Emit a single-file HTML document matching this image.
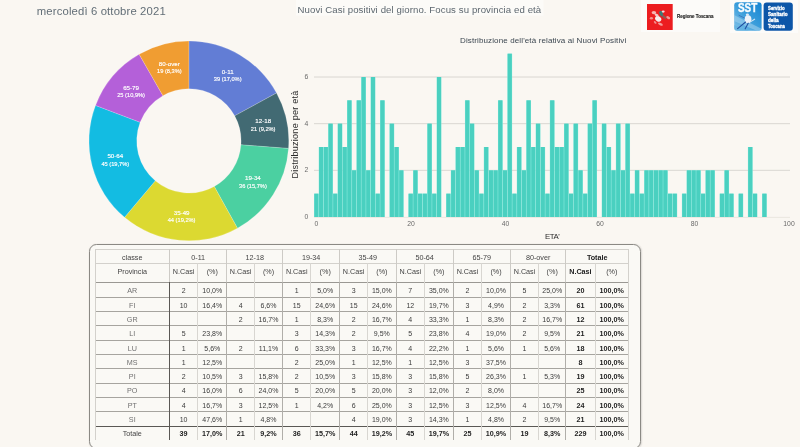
<!DOCTYPE html>
<html lang="it"><head><meta charset="utf-8"><title>Nuovi Casi positivi del giorno</title>
<style>
html,body{margin:0;padding:0;}
body{width:800px;height:447px;overflow:hidden;background:#faf7f2;position:relative;font-family:"Liberation Sans",sans-serif;}
.abs{position:absolute;white-space:nowrap;}
svg text{font-family:"Liberation Sans",sans-serif;}
.tick{font-size:6.8px;fill:#6a6a6a;}
.axt{fill:#2a2a2a;}
.ctitle{font-size:8px;fill:#3b4650;}
.dl{font-size:6.2px;fill:#fff;stroke:#fff;stroke-width:0.15;}
.d2{font-size:5.7px;}
.th{font-size:7.2px;fill:#444;text-anchor:middle;}
.rl{font-size:7.2px;fill:#707070;text-anchor:middle;}
.td{font-size:7px;fill:#3a3a3a;text-anchor:middle;}
.b{font-weight:bold;fill:#222;font-size:7.2px;}
#date{left:36.5px;top:3.2px;font-size:11.9px;color:#5b6770;line-height:15px;}
#title{left:297.3px;top:3.6px;font-size:9.75px;color:#555f66;line-height:13px;}
#tbox{left:89px;top:243.5px;width:549.6px;height:203.5px;border:1px solid #8b8984;border-radius:7.5px;background:#faf9f5;box-shadow:0.5px 0.5px 1.5px rgba(0,0,0,0.12);}
.sst{font-size:4.8px;font-weight:bold;fill:#fff;stroke:#fff;stroke-width:0.3;}
#logo1{left:640.5px;top:0;width:79.5px;height:32px;background:#fcfbf9;}
#logo2{left:730px;top:0;width:67.5px;height:33px;background:#fcfbf9;}
#bottomstrip{left:0;top:445.5px;width:800px;height:2px;background:#fbfaf7;}
</style></head><body>
<div id="logo1" class="abs"></div>
<div id="logo2" class="abs"></div>
<div id="tbox" class="abs"></div>
<svg class="abs" style="left:0;top:0" width="800" height="447" viewBox="0 0 800 447">
<rect x="296" y="0" width="247.5" height="15.6" fill="#fcfbf8"/>
<text x="36.8" y="14.8" textLength="128.9" style="font-size:11.3px;fill:#626e77">mercoledì 6 ottobre 2021</text>
<text x="297.5" y="13" textLength="243.7" style="font-size:9.6px;fill:#5d676f">Nuovi Casi positivi del giorno. Focus su provincia ed età</text>
<!-- logos -->
<g id="regione">
<rect x="647" y="4" width="25.7" height="26" fill="#ec1d20"/>
<ellipse cx="653.9" cy="12.6" rx="2.3" ry="1.6" fill="#f6b4b2"/>
<ellipse cx="651.4" cy="18.2" rx="1.6" ry="1.2" fill="#f28e8c"/>
<ellipse cx="658.2" cy="18.8" rx="3.3" ry="2.6" transform="rotate(35 658.2 18.8)" fill="#f7ecec"/>
<ellipse cx="656.6" cy="15.2" rx="2.2" ry="1.3" transform="rotate(30 656.6 15.2)" fill="#f4c9c8"/>
<ellipse cx="661.2" cy="13.6" rx="1.7" ry="2.9" transform="rotate(-25 661.2 13.6)" fill="#3c7b76"/>
<ellipse cx="663.2" cy="11.6" rx="1.5" ry="1.1" fill="#f3dede"/>
<ellipse cx="664.2" cy="17" rx="2.6" ry="1.2" transform="rotate(35 664.2 17)" fill="#8a5a55"/>
<ellipse cx="668.2" cy="17.6" rx="2.1" ry="1.3" transform="rotate(30 668.2 17.6)" fill="#f39a98"/>
<ellipse cx="660.4" cy="24.2" rx="2.6" ry="1.2" transform="rotate(25 660.4 24.2)" fill="#f39a98"/>
<ellipse cx="655.2" cy="22.4" rx="1.6" ry="1" transform="rotate(40 655.2 22.4)" fill="#f28e8c"/>
<text x="677" y="17.9" textLength="36.5" lengthAdjust="spacingAndGlyphs" style="font-size:4.9px;font-weight:bold;fill:#1e1e1e;stroke:#1e1e1e;stroke-width:0.15">Regione Toscana</text>
</g>
<g id="sst">
<defs><linearGradient id="lg" x1="1" y1="0" x2="0" y2="1"><stop offset="0" stop-color="#1584d2"/><stop offset="0.5" stop-color="#3a9ddb"/><stop offset="1" stop-color="#86c4e8"/></linearGradient>
<clipPath id="sc"><rect x="734.2" y="2.3" width="27.4" height="28.5" rx="3"/></clipPath></defs>
<rect x="734.2" y="2.3" width="27.4" height="28.5" rx="3" fill="url(#lg)"/>
<g clip-path="url(#sc)">
<path d="M734,15 L762,29 L762,33 L734,21 Z" fill="#a5d4ee" opacity="0.55"/>
<path d="M734,25 L750,31 L734,31 Z" fill="#5fb0e0" opacity="0.6"/>
</g>
<text x="738" y="12.2" textLength="19.2" lengthAdjust="spacingAndGlyphs" style="font-size:12.6px;font-weight:bold;fill:#fff;stroke:#e8f4fc;stroke-width:0.5">SST</text>
<ellipse cx="748" cy="19.2" rx="3.4" ry="3.9" fill="#eef2f8"/>
<ellipse cx="747.4" cy="14.8" rx="1.6" ry="1.3" fill="#dfe9f4"/>
<path d="M745.6,22 L737.6,28.6" stroke="#1f4fa0" stroke-width="1.1" stroke-linecap="round"/>
<path d="M748.2,23.2 L745.2,28.8" stroke="#1f4fa0" stroke-width="1.1" stroke-linecap="round"/>
<path d="M750.8,21.6 L754.6,19.2" stroke="#d6e6f4" stroke-width="1.1" stroke-linecap="round"/>
<path d="M739,15.4 L744.5,18" stroke="#3b6fb5" stroke-width="0.8" stroke-linecap="round"/>
<rect x="763.6" y="2.4" width="29.2" height="28.3" rx="3" fill="#0c56a8"/>
<text x="768" y="9.7" class="sst" textLength="16.6" lengthAdjust="spacingAndGlyphs">Servizio</text>
<text x="768" y="15.7" class="sst" textLength="19.6" lengthAdjust="spacingAndGlyphs">Sanitario</text>
<text x="768" y="21.7" class="sst" textLength="10.6" lengthAdjust="spacingAndGlyphs">della</text>
<text x="768" y="27.7" class="sst" textLength="16.8" lengthAdjust="spacingAndGlyphs">Toscana</text>
</g>
<!-- histogram -->
<line x1="314" x2="790" y1="170.34" y2="170.34" stroke="#d2cfc9" stroke-width="0.8"/>
<line x1="314" x2="790" y1="123.68" y2="123.68" stroke="#d2cfc9" stroke-width="0.8"/>
<line x1="314" x2="790" y1="77.02" y2="77.02" stroke="#d2cfc9" stroke-width="0.8"/>
<line x1="314" x2="790" y1="217.40" y2="217.40" stroke="#e6e3dc" stroke-width="0.8"/>
<rect x="314.04" y="193.67" width="4.716" height="23.33" fill="#86e9dd"/>
<rect x="314.35" y="193.67" width="4.1" height="23.33" fill="#4ad0c0"/>
<rect x="318.76" y="147.01" width="4.716" height="69.99" fill="#86e9dd"/>
<rect x="319.07" y="147.01" width="4.1" height="69.99" fill="#4ad0c0"/>
<rect x="323.47" y="147.01" width="4.716" height="69.99" fill="#86e9dd"/>
<rect x="323.78" y="147.01" width="4.1" height="69.99" fill="#4ad0c0"/>
<rect x="328.19" y="123.68" width="4.716" height="93.32" fill="#86e9dd"/>
<rect x="328.50" y="123.68" width="4.1" height="93.32" fill="#4ad0c0"/>
<rect x="332.91" y="193.67" width="4.716" height="23.33" fill="#86e9dd"/>
<rect x="333.21" y="193.67" width="4.1" height="23.33" fill="#4ad0c0"/>
<rect x="337.62" y="123.68" width="4.716" height="93.32" fill="#86e9dd"/>
<rect x="337.93" y="123.68" width="4.1" height="93.32" fill="#4ad0c0"/>
<rect x="342.34" y="147.01" width="4.716" height="69.99" fill="#86e9dd"/>
<rect x="342.65" y="147.01" width="4.1" height="69.99" fill="#4ad0c0"/>
<rect x="347.05" y="100.35" width="4.716" height="116.65" fill="#86e9dd"/>
<rect x="347.36" y="100.35" width="4.1" height="116.65" fill="#4ad0c0"/>
<rect x="351.77" y="170.34" width="4.716" height="46.66" fill="#86e9dd"/>
<rect x="352.08" y="170.34" width="4.1" height="46.66" fill="#4ad0c0"/>
<rect x="356.49" y="100.35" width="4.716" height="116.65" fill="#86e9dd"/>
<rect x="356.79" y="100.35" width="4.1" height="116.65" fill="#4ad0c0"/>
<rect x="361.20" y="77.02" width="4.716" height="139.98" fill="#86e9dd"/>
<rect x="361.51" y="77.02" width="4.1" height="139.98" fill="#4ad0c0"/>
<rect x="365.92" y="170.34" width="4.716" height="46.66" fill="#86e9dd"/>
<rect x="366.23" y="170.34" width="4.1" height="46.66" fill="#4ad0c0"/>
<rect x="370.63" y="77.02" width="4.716" height="139.98" fill="#86e9dd"/>
<rect x="370.94" y="77.02" width="4.1" height="139.98" fill="#4ad0c0"/>
<rect x="375.35" y="193.67" width="4.716" height="23.33" fill="#86e9dd"/>
<rect x="375.66" y="193.67" width="4.1" height="23.33" fill="#4ad0c0"/>
<rect x="380.07" y="100.35" width="4.716" height="116.65" fill="#86e9dd"/>
<rect x="380.37" y="100.35" width="4.1" height="116.65" fill="#4ad0c0"/>
<rect x="389.50" y="123.68" width="4.716" height="93.32" fill="#86e9dd"/>
<rect x="389.81" y="123.68" width="4.1" height="93.32" fill="#4ad0c0"/>
<rect x="394.21" y="147.01" width="4.716" height="69.99" fill="#86e9dd"/>
<rect x="394.52" y="147.01" width="4.1" height="69.99" fill="#4ad0c0"/>
<rect x="398.93" y="170.34" width="4.716" height="46.66" fill="#86e9dd"/>
<rect x="399.24" y="170.34" width="4.1" height="46.66" fill="#4ad0c0"/>
<rect x="408.36" y="193.67" width="4.716" height="23.33" fill="#86e9dd"/>
<rect x="408.67" y="193.67" width="4.1" height="23.33" fill="#4ad0c0"/>
<rect x="413.08" y="170.34" width="4.716" height="46.66" fill="#86e9dd"/>
<rect x="413.39" y="170.34" width="4.1" height="46.66" fill="#4ad0c0"/>
<rect x="417.79" y="193.67" width="4.716" height="23.33" fill="#86e9dd"/>
<rect x="418.10" y="193.67" width="4.1" height="23.33" fill="#4ad0c0"/>
<rect x="422.51" y="193.67" width="4.716" height="23.33" fill="#86e9dd"/>
<rect x="422.82" y="193.67" width="4.1" height="23.33" fill="#4ad0c0"/>
<rect x="427.23" y="123.68" width="4.716" height="93.32" fill="#86e9dd"/>
<rect x="427.53" y="123.68" width="4.1" height="93.32" fill="#4ad0c0"/>
<rect x="431.94" y="193.67" width="4.716" height="23.33" fill="#86e9dd"/>
<rect x="432.25" y="193.67" width="4.1" height="23.33" fill="#4ad0c0"/>
<rect x="436.66" y="77.02" width="4.716" height="139.98" fill="#86e9dd"/>
<rect x="436.97" y="77.02" width="4.1" height="139.98" fill="#4ad0c0"/>
<rect x="446.09" y="193.67" width="4.716" height="23.33" fill="#86e9dd"/>
<rect x="446.40" y="193.67" width="4.1" height="23.33" fill="#4ad0c0"/>
<rect x="450.81" y="170.34" width="4.716" height="46.66" fill="#86e9dd"/>
<rect x="451.11" y="170.34" width="4.1" height="46.66" fill="#4ad0c0"/>
<rect x="455.52" y="147.01" width="4.716" height="69.99" fill="#86e9dd"/>
<rect x="455.83" y="147.01" width="4.1" height="69.99" fill="#4ad0c0"/>
<rect x="460.24" y="147.01" width="4.716" height="69.99" fill="#86e9dd"/>
<rect x="460.55" y="147.01" width="4.1" height="69.99" fill="#4ad0c0"/>
<rect x="464.95" y="100.35" width="4.716" height="116.65" fill="#86e9dd"/>
<rect x="465.26" y="100.35" width="4.1" height="116.65" fill="#4ad0c0"/>
<rect x="469.67" y="123.68" width="4.716" height="93.32" fill="#86e9dd"/>
<rect x="469.98" y="123.68" width="4.1" height="93.32" fill="#4ad0c0"/>
<rect x="474.39" y="170.34" width="4.716" height="46.66" fill="#86e9dd"/>
<rect x="474.69" y="170.34" width="4.1" height="46.66" fill="#4ad0c0"/>
<rect x="479.10" y="193.67" width="4.716" height="23.33" fill="#86e9dd"/>
<rect x="479.41" y="193.67" width="4.1" height="23.33" fill="#4ad0c0"/>
<rect x="483.82" y="147.01" width="4.716" height="69.99" fill="#86e9dd"/>
<rect x="484.13" y="147.01" width="4.1" height="69.99" fill="#4ad0c0"/>
<rect x="488.53" y="170.34" width="4.716" height="46.66" fill="#86e9dd"/>
<rect x="488.84" y="170.34" width="4.1" height="46.66" fill="#4ad0c0"/>
<rect x="493.25" y="170.34" width="4.716" height="46.66" fill="#86e9dd"/>
<rect x="493.56" y="170.34" width="4.1" height="46.66" fill="#4ad0c0"/>
<rect x="497.97" y="100.35" width="4.716" height="116.65" fill="#86e9dd"/>
<rect x="498.27" y="100.35" width="4.1" height="116.65" fill="#4ad0c0"/>
<rect x="502.68" y="170.34" width="4.716" height="46.66" fill="#86e9dd"/>
<rect x="502.99" y="170.34" width="4.1" height="46.66" fill="#4ad0c0"/>
<rect x="507.40" y="53.69" width="4.716" height="163.31" fill="#86e9dd"/>
<rect x="507.71" y="53.69" width="4.1" height="163.31" fill="#4ad0c0"/>
<rect x="512.11" y="193.67" width="4.716" height="23.33" fill="#86e9dd"/>
<rect x="512.42" y="193.67" width="4.1" height="23.33" fill="#4ad0c0"/>
<rect x="516.83" y="147.01" width="4.716" height="69.99" fill="#86e9dd"/>
<rect x="517.14" y="147.01" width="4.1" height="69.99" fill="#4ad0c0"/>
<rect x="521.55" y="170.34" width="4.716" height="46.66" fill="#86e9dd"/>
<rect x="521.85" y="170.34" width="4.1" height="46.66" fill="#4ad0c0"/>
<rect x="526.26" y="100.35" width="4.716" height="116.65" fill="#86e9dd"/>
<rect x="526.57" y="100.35" width="4.1" height="116.65" fill="#4ad0c0"/>
<rect x="530.98" y="147.01" width="4.716" height="69.99" fill="#86e9dd"/>
<rect x="531.29" y="147.01" width="4.1" height="69.99" fill="#4ad0c0"/>
<rect x="535.69" y="123.68" width="4.716" height="93.32" fill="#86e9dd"/>
<rect x="536.00" y="123.68" width="4.1" height="93.32" fill="#4ad0c0"/>
<rect x="540.41" y="147.01" width="4.716" height="69.99" fill="#86e9dd"/>
<rect x="540.72" y="147.01" width="4.1" height="69.99" fill="#4ad0c0"/>
<rect x="545.13" y="193.67" width="4.716" height="23.33" fill="#86e9dd"/>
<rect x="545.43" y="193.67" width="4.1" height="23.33" fill="#4ad0c0"/>
<rect x="549.84" y="100.35" width="4.716" height="116.65" fill="#86e9dd"/>
<rect x="550.15" y="100.35" width="4.1" height="116.65" fill="#4ad0c0"/>
<rect x="554.56" y="147.01" width="4.716" height="69.99" fill="#86e9dd"/>
<rect x="554.87" y="147.01" width="4.1" height="69.99" fill="#4ad0c0"/>
<rect x="559.27" y="147.01" width="4.716" height="69.99" fill="#86e9dd"/>
<rect x="559.58" y="147.01" width="4.1" height="69.99" fill="#4ad0c0"/>
<rect x="563.99" y="123.68" width="4.716" height="93.32" fill="#86e9dd"/>
<rect x="564.30" y="123.68" width="4.1" height="93.32" fill="#4ad0c0"/>
<rect x="568.71" y="193.67" width="4.716" height="23.33" fill="#86e9dd"/>
<rect x="569.01" y="193.67" width="4.1" height="23.33" fill="#4ad0c0"/>
<rect x="573.42" y="123.68" width="4.716" height="93.32" fill="#86e9dd"/>
<rect x="573.73" y="123.68" width="4.1" height="93.32" fill="#4ad0c0"/>
<rect x="578.14" y="170.34" width="4.716" height="46.66" fill="#86e9dd"/>
<rect x="578.45" y="170.34" width="4.1" height="46.66" fill="#4ad0c0"/>
<rect x="582.85" y="193.67" width="4.716" height="23.33" fill="#86e9dd"/>
<rect x="583.16" y="193.67" width="4.1" height="23.33" fill="#4ad0c0"/>
<rect x="587.57" y="123.68" width="4.716" height="93.32" fill="#86e9dd"/>
<rect x="587.88" y="123.68" width="4.1" height="93.32" fill="#4ad0c0"/>
<rect x="592.29" y="100.35" width="4.716" height="116.65" fill="#86e9dd"/>
<rect x="592.59" y="100.35" width="4.1" height="116.65" fill="#4ad0c0"/>
<rect x="601.72" y="123.68" width="4.716" height="93.32" fill="#86e9dd"/>
<rect x="602.03" y="123.68" width="4.1" height="93.32" fill="#4ad0c0"/>
<rect x="606.43" y="147.01" width="4.716" height="69.99" fill="#86e9dd"/>
<rect x="606.74" y="147.01" width="4.1" height="69.99" fill="#4ad0c0"/>
<rect x="611.15" y="170.34" width="4.716" height="46.66" fill="#86e9dd"/>
<rect x="611.46" y="170.34" width="4.1" height="46.66" fill="#4ad0c0"/>
<rect x="615.87" y="123.68" width="4.716" height="93.32" fill="#86e9dd"/>
<rect x="616.17" y="123.68" width="4.1" height="93.32" fill="#4ad0c0"/>
<rect x="620.58" y="170.34" width="4.716" height="46.66" fill="#86e9dd"/>
<rect x="620.89" y="170.34" width="4.1" height="46.66" fill="#4ad0c0"/>
<rect x="625.30" y="123.68" width="4.716" height="93.32" fill="#86e9dd"/>
<rect x="625.61" y="123.68" width="4.1" height="93.32" fill="#4ad0c0"/>
<rect x="630.01" y="193.67" width="4.716" height="23.33" fill="#86e9dd"/>
<rect x="630.32" y="193.67" width="4.1" height="23.33" fill="#4ad0c0"/>
<rect x="634.73" y="170.34" width="4.716" height="46.66" fill="#86e9dd"/>
<rect x="635.04" y="170.34" width="4.1" height="46.66" fill="#4ad0c0"/>
<rect x="639.45" y="193.67" width="4.716" height="23.33" fill="#86e9dd"/>
<rect x="639.75" y="193.67" width="4.1" height="23.33" fill="#4ad0c0"/>
<rect x="644.16" y="170.34" width="4.716" height="46.66" fill="#86e9dd"/>
<rect x="644.47" y="170.34" width="4.1" height="46.66" fill="#4ad0c0"/>
<rect x="648.88" y="170.34" width="4.716" height="46.66" fill="#86e9dd"/>
<rect x="649.19" y="170.34" width="4.1" height="46.66" fill="#4ad0c0"/>
<rect x="653.59" y="170.34" width="4.716" height="46.66" fill="#86e9dd"/>
<rect x="653.90" y="170.34" width="4.1" height="46.66" fill="#4ad0c0"/>
<rect x="658.31" y="170.34" width="4.716" height="46.66" fill="#86e9dd"/>
<rect x="658.62" y="170.34" width="4.1" height="46.66" fill="#4ad0c0"/>
<rect x="663.03" y="170.34" width="4.716" height="46.66" fill="#86e9dd"/>
<rect x="663.33" y="170.34" width="4.1" height="46.66" fill="#4ad0c0"/>
<rect x="667.74" y="193.67" width="4.716" height="23.33" fill="#86e9dd"/>
<rect x="668.05" y="193.67" width="4.1" height="23.33" fill="#4ad0c0"/>
<rect x="672.46" y="193.67" width="4.716" height="23.33" fill="#86e9dd"/>
<rect x="672.77" y="193.67" width="4.1" height="23.33" fill="#4ad0c0"/>
<rect x="681.89" y="193.67" width="4.716" height="23.33" fill="#86e9dd"/>
<rect x="682.20" y="193.67" width="4.1" height="23.33" fill="#4ad0c0"/>
<rect x="686.61" y="170.34" width="4.716" height="46.66" fill="#86e9dd"/>
<rect x="686.91" y="170.34" width="4.1" height="46.66" fill="#4ad0c0"/>
<rect x="691.32" y="170.34" width="4.716" height="46.66" fill="#86e9dd"/>
<rect x="691.63" y="170.34" width="4.1" height="46.66" fill="#4ad0c0"/>
<rect x="696.04" y="170.34" width="4.716" height="46.66" fill="#86e9dd"/>
<rect x="696.35" y="170.34" width="4.1" height="46.66" fill="#4ad0c0"/>
<rect x="700.75" y="193.67" width="4.716" height="23.33" fill="#86e9dd"/>
<rect x="701.06" y="193.67" width="4.1" height="23.33" fill="#4ad0c0"/>
<rect x="705.47" y="170.34" width="4.716" height="46.66" fill="#86e9dd"/>
<rect x="705.78" y="170.34" width="4.1" height="46.66" fill="#4ad0c0"/>
<rect x="710.19" y="170.34" width="4.716" height="46.66" fill="#86e9dd"/>
<rect x="710.49" y="170.34" width="4.1" height="46.66" fill="#4ad0c0"/>
<rect x="719.62" y="193.67" width="4.716" height="23.33" fill="#86e9dd"/>
<rect x="719.93" y="193.67" width="4.1" height="23.33" fill="#4ad0c0"/>
<rect x="724.33" y="170.34" width="4.716" height="46.66" fill="#86e9dd"/>
<rect x="724.64" y="170.34" width="4.1" height="46.66" fill="#4ad0c0"/>
<rect x="729.05" y="193.67" width="4.716" height="23.33" fill="#86e9dd"/>
<rect x="729.36" y="193.67" width="4.1" height="23.33" fill="#4ad0c0"/>
<rect x="738.48" y="193.67" width="4.716" height="23.33" fill="#86e9dd"/>
<rect x="738.79" y="193.67" width="4.1" height="23.33" fill="#4ad0c0"/>
<rect x="747.91" y="147.01" width="4.716" height="69.99" fill="#86e9dd"/>
<rect x="748.22" y="147.01" width="4.1" height="69.99" fill="#4ad0c0"/>
<rect x="752.63" y="193.67" width="4.716" height="23.33" fill="#86e9dd"/>
<rect x="752.94" y="193.67" width="4.1" height="23.33" fill="#4ad0c0"/>
<rect x="762.06" y="193.67" width="4.716" height="23.33" fill="#86e9dd"/>
<rect x="762.37" y="193.67" width="4.1" height="23.33" fill="#4ad0c0"/>
<text x="306.5" y="219.10" text-anchor="middle" class="tick">0</text>
<text x="306.5" y="172.44" text-anchor="middle" class="tick">2</text>
<text x="306.5" y="125.78" text-anchor="middle" class="tick">4</text>
<text x="306.5" y="79.12" text-anchor="middle" class="tick">6</text>
<text x="316.40" y="226.0" text-anchor="middle" class="tick">0</text>
<text x="410.92" y="226.0" text-anchor="middle" class="tick">20</text>
<text x="505.44" y="226.0" text-anchor="middle" class="tick">40</text>
<text x="599.96" y="226.0" text-anchor="middle" class="tick">60</text>
<text x="694.48" y="226.0" text-anchor="middle" class="tick">80</text>
<text x="789.00" y="226.0" text-anchor="middle" class="tick">100</text>
<text x="545" y="238.7" textLength="14.7" class="axt" style="font-size:7.8px">ETA'</text>
<text transform="translate(297.9,178.5) rotate(-90)" textLength="87.8" class="axt" style="font-size:9.1px">Distribuzione per età</text>
<text x="460" y="42.5" textLength="166.2" class="ctitle">Distribuzione dell'età relativa ai Nuovi Positivi</text>
<!-- donut -->
<path d="M188.90,41.00 A99.9,99.9 0 0 1 276.54,92.94 L234.69,115.84 A52.2,52.2 0 0 0 188.90,88.70 Z" fill="#627dd5" stroke="#ffffff" stroke-opacity="0.6" stroke-width="0.3"/>
<path d="M276.54,92.94 A99.9,99.9 0 0 1 288.52,148.43 L240.95,144.83 A52.2,52.2 0 0 0 234.69,115.84 Z" fill="#426a73" stroke="#ffffff" stroke-opacity="0.6" stroke-width="0.3"/>
<path d="M288.52,148.43 A99.9,99.9 0 0 1 237.46,228.20 L214.27,186.52 A52.2,52.2 0 0 0 240.95,144.83 Z" fill="#4bd0a1" stroke="#ffffff" stroke-opacity="0.6" stroke-width="0.3"/>
<path d="M237.46,228.20 A99.9,99.9 0 0 1 124.57,217.33 L155.29,180.84 A52.2,52.2 0 0 0 214.27,186.52 Z" fill="#dcd931" stroke="#ffffff" stroke-opacity="0.6" stroke-width="0.3"/>
<path d="M124.57,217.33 A99.9,99.9 0 0 1 95.53,105.38 L140.11,122.34 A52.2,52.2 0 0 0 155.29,180.84 Z" fill="#13bce2" stroke="#ffffff" stroke-opacity="0.6" stroke-width="0.3"/>
<path d="M95.53,105.38 A99.9,99.9 0 0 1 139.15,54.27 L162.90,95.63 A52.2,52.2 0 0 0 140.11,122.34 Z" fill="#b460d9" stroke="#ffffff" stroke-opacity="0.6" stroke-width="0.3"/>
<path d="M139.15,54.27 A99.9,99.9 0 0 1 188.90,41.00 L188.90,88.70 A52.2,52.2 0 0 0 162.90,95.63 Z" fill="#f09d32" stroke="#ffffff" stroke-opacity="0.6" stroke-width="0.3"/>
<text x="227.65" y="73.82" text-anchor="middle" class="dl">0-11</text>
<text x="227.65" y="81.42" text-anchor="middle" class="dl d2">39 (17,0%)</text>
<text x="263.19" y="123.16" text-anchor="middle" class="dl">12-18</text>
<text x="263.19" y="130.76" text-anchor="middle" class="dl d2">21 (9,2%)</text>
<text x="252.91" y="180.17" text-anchor="middle" class="dl">19-34</text>
<text x="252.91" y="187.77" text-anchor="middle" class="dl d2">36 (15,7%)</text>
<text x="181.61" y="214.85" text-anchor="middle" class="dl">35-49</text>
<text x="181.61" y="222.45" text-anchor="middle" class="dl d2">44 (19,2%)</text>
<text x="115.33" y="158.28" text-anchor="middle" class="dl">50-64</text>
<text x="115.33" y="165.88" text-anchor="middle" class="dl d2">45 (19,7%)</text>
<text x="131.09" y="89.86" text-anchor="middle" class="dl">65-79</text>
<text x="131.09" y="97.46" text-anchor="middle" class="dl d2">25 (10,9%)</text>
<text x="169.31" y="65.77" text-anchor="middle" class="dl">80-over</text>
<text x="169.31" y="73.37" text-anchor="middle" class="dl d2">19 (8,3%)</text>
<!-- table -->
<line x1="95.0" x2="628.6" y1="249.5" y2="249.5" stroke="#d3d1cc" stroke-width="1"/>
<line x1="95.0" x2="628.6" y1="263.5" y2="263.5" stroke="#d3d1cc" stroke-width="1"/>
<line x1="95.0" x2="628.6" y1="282.5" y2="282.5" stroke="#9a9893" stroke-width="1"/>
<line x1="95.0" x2="628.6" y1="297.5" y2="297.5" stroke="#a6a49f" stroke-width="1"/>
<line x1="95.0" x2="628.6" y1="311.5" y2="311.5" stroke="#a6a49f" stroke-width="1"/>
<line x1="95.0" x2="628.6" y1="325.5" y2="325.5" stroke="#a6a49f" stroke-width="1"/>
<line x1="95.0" x2="628.6" y1="340.5" y2="340.5" stroke="#a6a49f" stroke-width="1"/>
<line x1="95.0" x2="628.6" y1="354.5" y2="354.5" stroke="#a6a49f" stroke-width="1"/>
<line x1="95.0" x2="628.6" y1="368.5" y2="368.5" stroke="#a6a49f" stroke-width="1"/>
<line x1="95.0" x2="628.6" y1="383.5" y2="383.5" stroke="#a6a49f" stroke-width="1"/>
<line x1="95.0" x2="628.6" y1="397.5" y2="397.5" stroke="#a6a49f" stroke-width="1"/>
<line x1="95.0" x2="628.6" y1="411.5" y2="411.5" stroke="#a6a49f" stroke-width="1"/>
<line x1="95.0" x2="628.6" y1="426.5" y2="426.5" stroke="#5a5854" stroke-width="1"/>
<line x1="95.5" x2="95.5" y1="249.00" y2="440.00" stroke="#d3d1cc" stroke-width="1"/>
<line x1="169.5" x2="169.5" y1="249.00" y2="282.00" stroke="#cdcbc6" stroke-width="1"/>
<line x1="169.5" x2="169.5" y1="282.00" y2="440.00" stroke="#5a5854" stroke-width="1"/>
<line x1="197.5" x2="197.5" y1="263.20" y2="440.00" stroke="#d8d6d1" stroke-width="1"/>
<line x1="226.5" x2="226.5" y1="249.00" y2="282.00" stroke="#cdcbc6" stroke-width="1"/>
<line x1="226.5" x2="226.5" y1="282.00" y2="440.00" stroke="#b0aea9" stroke-width="1"/>
<line x1="254.5" x2="254.5" y1="263.20" y2="440.00" stroke="#d8d6d1" stroke-width="1"/>
<line x1="282.5" x2="282.5" y1="249.00" y2="282.00" stroke="#cdcbc6" stroke-width="1"/>
<line x1="282.5" x2="282.5" y1="282.00" y2="440.00" stroke="#b0aea9" stroke-width="1"/>
<line x1="310.5" x2="310.5" y1="263.20" y2="440.00" stroke="#d8d6d1" stroke-width="1"/>
<line x1="339.5" x2="339.5" y1="249.00" y2="282.00" stroke="#cdcbc6" stroke-width="1"/>
<line x1="339.5" x2="339.5" y1="282.00" y2="440.00" stroke="#b0aea9" stroke-width="1"/>
<line x1="367.5" x2="367.5" y1="263.20" y2="440.00" stroke="#d8d6d1" stroke-width="1"/>
<line x1="396.5" x2="396.5" y1="249.00" y2="282.00" stroke="#cdcbc6" stroke-width="1"/>
<line x1="396.5" x2="396.5" y1="282.00" y2="440.00" stroke="#b0aea9" stroke-width="1"/>
<line x1="424.5" x2="424.5" y1="263.20" y2="440.00" stroke="#d8d6d1" stroke-width="1"/>
<line x1="453.5" x2="453.5" y1="249.00" y2="282.00" stroke="#cdcbc6" stroke-width="1"/>
<line x1="453.5" x2="453.5" y1="282.00" y2="440.00" stroke="#b0aea9" stroke-width="1"/>
<line x1="481.5" x2="481.5" y1="263.20" y2="440.00" stroke="#d8d6d1" stroke-width="1"/>
<line x1="510.5" x2="510.5" y1="249.00" y2="282.00" stroke="#cdcbc6" stroke-width="1"/>
<line x1="510.5" x2="510.5" y1="282.00" y2="440.00" stroke="#b0aea9" stroke-width="1"/>
<line x1="538.5" x2="538.5" y1="263.20" y2="440.00" stroke="#d8d6d1" stroke-width="1"/>
<line x1="565.5" x2="565.5" y1="249.00" y2="282.00" stroke="#cdcbc6" stroke-width="1"/>
<line x1="565.5" x2="565.5" y1="282.00" y2="440.00" stroke="#b0aea9" stroke-width="1"/>
<line x1="595.5" x2="595.5" y1="263.20" y2="440.00" stroke="#d8d6d1" stroke-width="1"/>
<line x1="628.5" x2="628.5" y1="249.00" y2="440.00" stroke="#d3d1cc" stroke-width="1"/>
<text x="132.25" y="259.6" class="th">classe</text>
<text x="132.25" y="274.1" class="th">Provincia</text>
<text x="198.20" y="259.6" class="th">0-11</text>
<text x="183.60" y="274.1" class="th">N.Casi</text>
<text x="212.30" y="274.1" class="th">(%)</text>
<text x="254.75" y="259.6" class="th">12-18</text>
<text x="240.65" y="274.1" class="th">N.Casi</text>
<text x="268.50" y="274.1" class="th">(%)</text>
<text x="311.10" y="259.6" class="th">19-34</text>
<text x="296.70" y="274.1" class="th">N.Casi</text>
<text x="325.20" y="274.1" class="th">(%)</text>
<text x="367.80" y="259.6" class="th">35-49</text>
<text x="353.65" y="274.1" class="th">N.Casi</text>
<text x="381.85" y="274.1" class="th">(%)</text>
<text x="424.60" y="259.6" class="th">50-64</text>
<text x="410.30" y="274.1" class="th">N.Casi</text>
<text x="438.90" y="274.1" class="th">(%)</text>
<text x="481.80" y="259.6" class="th">65-79</text>
<text x="467.45" y="274.1" class="th">N.Casi</text>
<text x="496.05" y="274.1" class="th">(%)</text>
<text x="538.10" y="259.6" class="th">80-over</text>
<text x="524.50" y="274.1" class="th">N.Casi</text>
<text x="552.20" y="274.1" class="th">(%)</text>
<text x="597.20" y="259.6" class="th b">Totale</text>
<text x="580.40" y="274.1" class="th b">N.Casi</text>
<text x="611.80" y="274.1" class="th">(%)</text>
<text x="132.25" y="292.85" class="rl">AR</text>
<text x="183.60" y="292.85" class="td">2</text>
<text x="212.30" y="292.85" class="td">10,0%</text>
<text x="296.70" y="292.85" class="td">1</text>
<text x="325.20" y="292.85" class="td">5,0%</text>
<text x="353.65" y="292.85" class="td">3</text>
<text x="381.85" y="292.85" class="td">15,0%</text>
<text x="410.30" y="292.85" class="td">7</text>
<text x="438.90" y="292.85" class="td">35,0%</text>
<text x="467.45" y="292.85" class="td">2</text>
<text x="496.05" y="292.85" class="td">10,0%</text>
<text x="524.50" y="292.85" class="td">5</text>
<text x="552.20" y="292.85" class="td">25,0%</text>
<text x="580.40" y="292.85" class="td b">20</text>
<text x="611.80" y="292.85" class="td b">100,0%</text>
<text x="132.25" y="307.65" class="rl">FI</text>
<text x="183.60" y="307.65" class="td">10</text>
<text x="212.30" y="307.65" class="td">16,4%</text>
<text x="240.65" y="307.65" class="td">4</text>
<text x="268.50" y="307.65" class="td">6,6%</text>
<text x="296.70" y="307.65" class="td">15</text>
<text x="325.20" y="307.65" class="td">24,6%</text>
<text x="353.65" y="307.65" class="td">15</text>
<text x="381.85" y="307.65" class="td">24,6%</text>
<text x="410.30" y="307.65" class="td">12</text>
<text x="438.90" y="307.65" class="td">19,7%</text>
<text x="467.45" y="307.65" class="td">3</text>
<text x="496.05" y="307.65" class="td">4,9%</text>
<text x="524.50" y="307.65" class="td">2</text>
<text x="552.20" y="307.65" class="td">3,3%</text>
<text x="580.40" y="307.65" class="td b">61</text>
<text x="611.80" y="307.65" class="td b">100,0%</text>
<text x="132.25" y="321.95" class="rl">GR</text>
<text x="240.65" y="321.95" class="td">2</text>
<text x="268.50" y="321.95" class="td">16,7%</text>
<text x="296.70" y="321.95" class="td">1</text>
<text x="325.20" y="321.95" class="td">8,3%</text>
<text x="353.65" y="321.95" class="td">2</text>
<text x="381.85" y="321.95" class="td">16,7%</text>
<text x="410.30" y="321.95" class="td">4</text>
<text x="438.90" y="321.95" class="td">33,3%</text>
<text x="467.45" y="321.95" class="td">1</text>
<text x="496.05" y="321.95" class="td">8,3%</text>
<text x="524.50" y="321.95" class="td">2</text>
<text x="552.20" y="321.95" class="td">16,7%</text>
<text x="580.40" y="321.95" class="td b">12</text>
<text x="611.80" y="321.95" class="td b">100,0%</text>
<text x="132.25" y="336.25" class="rl">LI</text>
<text x="183.60" y="336.25" class="td">5</text>
<text x="212.30" y="336.25" class="td">23,8%</text>
<text x="296.70" y="336.25" class="td">3</text>
<text x="325.20" y="336.25" class="td">14,3%</text>
<text x="353.65" y="336.25" class="td">2</text>
<text x="381.85" y="336.25" class="td">9,5%</text>
<text x="410.30" y="336.25" class="td">5</text>
<text x="438.90" y="336.25" class="td">23,8%</text>
<text x="467.45" y="336.25" class="td">4</text>
<text x="496.05" y="336.25" class="td">19,0%</text>
<text x="524.50" y="336.25" class="td">2</text>
<text x="552.20" y="336.25" class="td">9,5%</text>
<text x="580.40" y="336.25" class="td b">21</text>
<text x="611.80" y="336.25" class="td b">100,0%</text>
<text x="132.25" y="350.55" class="rl">LU</text>
<text x="183.60" y="350.55" class="td">1</text>
<text x="212.30" y="350.55" class="td">5,6%</text>
<text x="240.65" y="350.55" class="td">2</text>
<text x="268.50" y="350.55" class="td">11,1%</text>
<text x="296.70" y="350.55" class="td">6</text>
<text x="325.20" y="350.55" class="td">33,3%</text>
<text x="353.65" y="350.55" class="td">3</text>
<text x="381.85" y="350.55" class="td">16,7%</text>
<text x="410.30" y="350.55" class="td">4</text>
<text x="438.90" y="350.55" class="td">22,2%</text>
<text x="467.45" y="350.55" class="td">1</text>
<text x="496.05" y="350.55" class="td">5,6%</text>
<text x="524.50" y="350.55" class="td">1</text>
<text x="552.20" y="350.55" class="td">5,6%</text>
<text x="580.40" y="350.55" class="td b">18</text>
<text x="611.80" y="350.55" class="td b">100,0%</text>
<text x="132.25" y="364.85" class="rl">MS</text>
<text x="183.60" y="364.85" class="td">1</text>
<text x="212.30" y="364.85" class="td">12,5%</text>
<text x="296.70" y="364.85" class="td">2</text>
<text x="325.20" y="364.85" class="td">25,0%</text>
<text x="353.65" y="364.85" class="td">1</text>
<text x="381.85" y="364.85" class="td">12,5%</text>
<text x="410.30" y="364.85" class="td">1</text>
<text x="438.90" y="364.85" class="td">12,5%</text>
<text x="467.45" y="364.85" class="td">3</text>
<text x="496.05" y="364.85" class="td">37,5%</text>
<text x="580.40" y="364.85" class="td b">8</text>
<text x="611.80" y="364.85" class="td b">100,0%</text>
<text x="132.25" y="379.15" class="rl">PI</text>
<text x="183.60" y="379.15" class="td">2</text>
<text x="212.30" y="379.15" class="td">10,5%</text>
<text x="240.65" y="379.15" class="td">3</text>
<text x="268.50" y="379.15" class="td">15,8%</text>
<text x="296.70" y="379.15" class="td">2</text>
<text x="325.20" y="379.15" class="td">10,5%</text>
<text x="353.65" y="379.15" class="td">3</text>
<text x="381.85" y="379.15" class="td">15,8%</text>
<text x="410.30" y="379.15" class="td">3</text>
<text x="438.90" y="379.15" class="td">15,8%</text>
<text x="467.45" y="379.15" class="td">5</text>
<text x="496.05" y="379.15" class="td">26,3%</text>
<text x="524.50" y="379.15" class="td">1</text>
<text x="552.20" y="379.15" class="td">5,3%</text>
<text x="580.40" y="379.15" class="td b">19</text>
<text x="611.80" y="379.15" class="td b">100,0%</text>
<text x="132.25" y="393.45" class="rl">PO</text>
<text x="183.60" y="393.45" class="td">4</text>
<text x="212.30" y="393.45" class="td">16,0%</text>
<text x="240.65" y="393.45" class="td">6</text>
<text x="268.50" y="393.45" class="td">24,0%</text>
<text x="296.70" y="393.45" class="td">5</text>
<text x="325.20" y="393.45" class="td">20,0%</text>
<text x="353.65" y="393.45" class="td">5</text>
<text x="381.85" y="393.45" class="td">20,0%</text>
<text x="410.30" y="393.45" class="td">3</text>
<text x="438.90" y="393.45" class="td">12,0%</text>
<text x="467.45" y="393.45" class="td">2</text>
<text x="496.05" y="393.45" class="td">8,0%</text>
<text x="580.40" y="393.45" class="td b">25</text>
<text x="611.80" y="393.45" class="td b">100,0%</text>
<text x="132.25" y="407.75" class="rl">PT</text>
<text x="183.60" y="407.75" class="td">4</text>
<text x="212.30" y="407.75" class="td">16,7%</text>
<text x="240.65" y="407.75" class="td">3</text>
<text x="268.50" y="407.75" class="td">12,5%</text>
<text x="296.70" y="407.75" class="td">1</text>
<text x="325.20" y="407.75" class="td">4,2%</text>
<text x="353.65" y="407.75" class="td">6</text>
<text x="381.85" y="407.75" class="td">25,0%</text>
<text x="410.30" y="407.75" class="td">3</text>
<text x="438.90" y="407.75" class="td">12,5%</text>
<text x="467.45" y="407.75" class="td">3</text>
<text x="496.05" y="407.75" class="td">12,5%</text>
<text x="524.50" y="407.75" class="td">4</text>
<text x="552.20" y="407.75" class="td">16,7%</text>
<text x="580.40" y="407.75" class="td b">24</text>
<text x="611.80" y="407.75" class="td b">100,0%</text>
<text x="132.25" y="422.05" class="rl">SI</text>
<text x="183.60" y="422.05" class="td">10</text>
<text x="212.30" y="422.05" class="td">47,6%</text>
<text x="240.65" y="422.05" class="td">1</text>
<text x="268.50" y="422.05" class="td">4,8%</text>
<text x="353.65" y="422.05" class="td">4</text>
<text x="381.85" y="422.05" class="td">19,0%</text>
<text x="410.30" y="422.05" class="td">3</text>
<text x="438.90" y="422.05" class="td">14,3%</text>
<text x="467.45" y="422.05" class="td">1</text>
<text x="496.05" y="422.05" class="td">4,8%</text>
<text x="524.50" y="422.05" class="td">2</text>
<text x="552.20" y="422.05" class="td">9,5%</text>
<text x="580.40" y="422.05" class="td b">21</text>
<text x="611.80" y="422.05" class="td b">100,0%</text>
<text x="132.25" y="436.20" class="th">Totale</text>
<text x="183.60" y="436.20" class="td b">39</text>
<text x="212.30" y="436.20" class="td b">17,0%</text>
<text x="240.65" y="436.20" class="td b">21</text>
<text x="268.50" y="436.20" class="td b">9,2%</text>
<text x="296.70" y="436.20" class="td b">36</text>
<text x="325.20" y="436.20" class="td b">15,7%</text>
<text x="353.65" y="436.20" class="td b">44</text>
<text x="381.85" y="436.20" class="td b">19,2%</text>
<text x="410.30" y="436.20" class="td b">45</text>
<text x="438.90" y="436.20" class="td b">19,7%</text>
<text x="467.45" y="436.20" class="td b">25</text>
<text x="496.05" y="436.20" class="td b">10,9%</text>
<text x="524.50" y="436.20" class="td b">19</text>
<text x="552.20" y="436.20" class="td b">8,3%</text>
<text x="580.40" y="436.20" class="td b">229</text>
<text x="611.80" y="436.20" class="td b">100,0%</text>
</svg>
</body></html>
